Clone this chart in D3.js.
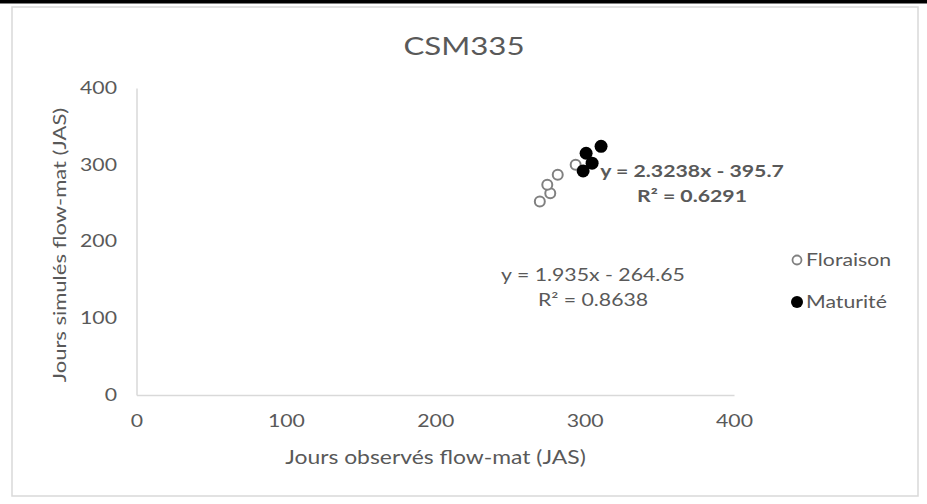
<!DOCTYPE html>
<html>
<head>
<meta charset="utf-8">
<script src="https://cdn.jsdelivr.net/npm/d3@7"></script>
<style>
  html, body { margin: 0; padding: 0; background: #fff; }
  svg { display: block; }
  text { font-family: Lato, "Open Sans", sans-serif; fill: #595959; }
</style>
</head>
<body>
<svg id="chart" width="927" height="504"></svg>
<script>
// Observed vs simulated days (JAS), CSM335
const floraisonObs = [270, 277, 275, 282, 294];
const floraisonSim = [252, 263, 274, 287, 300];
const maturiteObs = [311, 301, 305, 299];
const maturiteSim = [324, 315, 302, 292];
const xTicks = [0, 100, 200, 300, 400];
const yTicks = [0, 100, 200, 300, 400];
const seriesNames = ["Floraison", "Maturité"];
const eqMaturite = ["y = 2.3238x - 395.7", "R² = 0.6291"];
const eqFloraison = ["y = 1.935x - 264.65", "R² = 0.8638"];

// glyphs are drawn a little wider than the font's natural width
const SX = 1.25;

const svg = d3.select("#chart");

// page edge and chart frame
svg.append("rect").attr("x", 0).attr("y", 0).attr("width", 927).attr("height", 3.5).attr("fill", "#000");
svg.append("rect").attr("x", 12).attr("y", 7).attr("width", 906).attr("height", 489)
  .attr("fill", "#fff").attr("stroke", "#d9d9d9").attr("stroke-width", 1.5);

const x = d3.scaleLinear().domain([0, 400]).range([136.5, 734]);
const y = d3.scaleLinear().domain([0, 400]).range([395, 88]);

// helper: wide text anchored at (px, py)
function label(parent, px, py, str, size, anchor, extra) {
  const g = parent.append("g").attr("transform", `translate(${px},${py}) ${extra || ""} scale(${SX},1)`);
  return g.append("text").attr("text-anchor", anchor).attr("font-size", size).text(str);
}

// axes
const xAxis = d3.axisBottom(x).tickValues(xTicks).tickSize(0).tickPadding(20);
const yAxis = d3.axisLeft(y).tickValues(yTicks).tickSize(0).tickPadding(15.6);

const gx = svg.append("g").attr("transform", `translate(0,${y(0)})`).call(xAxis);
gx.select(".domain").attr("stroke", "#d9d9d9").attr("stroke-width", 1.5);
gx.selectAll("text").attr("font-size", 17).attr("fill", "#595959")
  .attr("transform", `scale(${SX},1)`);

const gy = svg.append("g").attr("transform", `translate(${x(0)},0)`).call(yAxis);
gy.select(".domain").attr("stroke", "#d9d9d9").attr("stroke-width", 1.5);
gy.selectAll("text").attr("font-size", 17).attr("fill", "#595959")
  .attr("transform", `scale(${SX},1)`);

// title and axis titles
label(svg, 464, 55, "CSM335", 25, "middle");
label(svg, 435.5, 464, "Jours observés flow-mat (JAS)", 18.3, "middle");
label(svg, 66, 245, "Jours simulés flow-mat (JAS)", 17.6, "middle", "rotate(-90)");

// points
const flo = floraisonObs.map((v, i) => [v, floraisonSim[i]]);
const mat = maturiteObs.map((v, i) => [v, maturiteSim[i]]);

svg.append("g").selectAll("circle").data(flo).join("circle")
  .attr("cx", d => x(d[0])).attr("cy", d => y(d[1])).attr("r", 5)
  .attr("fill", "#fff").attr("stroke", "#808080").attr("stroke-width", 2);

svg.append("g").selectAll("circle").data(mat).join("circle")
  .attr("cx", d => x(d[0])).attr("cy", d => y(d[1])).attr("r", 6.5)
  .attr("fill", "#000");

// regression labels
label(svg, 692, 177, eqMaturite[0], 17, "middle").attr("font-weight", "bold");
label(svg, 692, 202, eqMaturite[1], 17, "middle").attr("font-weight", "bold");
label(svg, 593, 281, eqFloraison[0], 17, "middle");
label(svg, 593, 306, eqFloraison[1], 17, "middle");

// legend
const legend = svg.append("g");
legend.append("circle").attr("cx", 797).attr("cy", 260).attr("r", 4.5)
  .attr("fill", "#fff").attr("stroke", "#808080").attr("stroke-width", 1.8);
legend.append("circle").attr("cx", 797).attr("cy", 302).attr("r", 6)
  .attr("fill", "#000");
label(legend, 806, 266, seriesNames[0], 17, "start");
label(legend, 806, 308, seriesNames[1], 17, "start");
</script>
</body>
</html>
